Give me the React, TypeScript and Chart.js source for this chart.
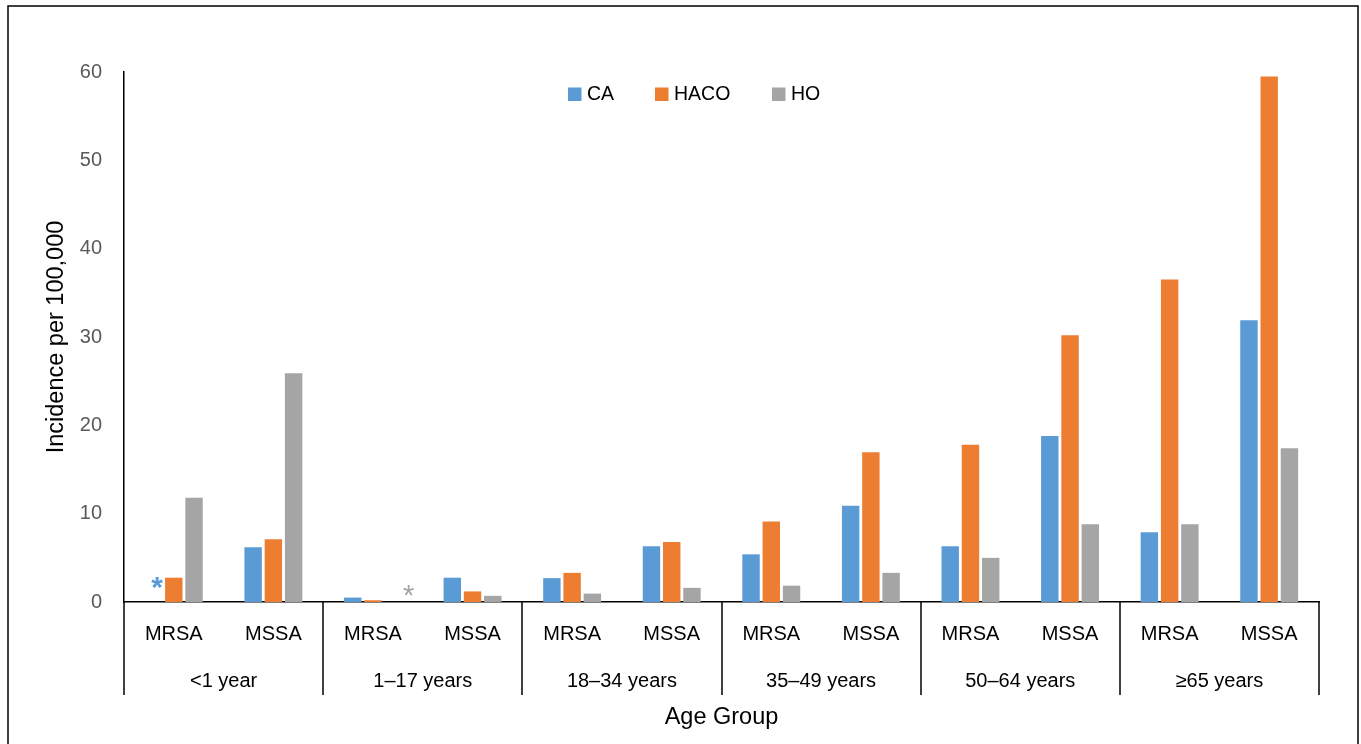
import React, { useEffect, useRef } from "react";
import { Chart, registerables } from "chart.js";

Chart.register(...registerables);

const ageGroups = ["<1 year", "1–17 years", "18–34 years", "35–49 years", "50–64 years", "≥65 years"];
const organisms = ["MRSA", "MSSA"];
const seriesNames = ["CA", "HACO", "HO"];
const seriesColors = ["#5B9BD5", "#ED7D31", "#A5A5A5"];

const caValues = [null, 6.2, 0.5, 2.75, 2.7, 6.3, 5.4, 10.9, 6.3, 18.8, 7.9, 31.9];
const hacoValues = [2.75, 7.1, 0.2, 1.2, 3.3, 6.8, 9.1, 16.95, 17.8, 30.2, 36.5, 59.5];
const hoValues = [11.8, 25.9, null, 0.7, 0.95, 1.6, 1.85, 3.3, 5.0, 8.8, 8.8, 17.4];

const yTicks = [0, 10, 20, 30, 40, 50, 60];

// suppressed-value markers: [datasetIndex, categoryIndex]
const asteriskMarks = [
  { ds: 0, idx: 0, color: "#5B9BD5", bold: true, dx: 3.5, cy: 582, size: 30 },
  { ds: 2, idx: 2, color: "#A5A5A5", bold: false, dx: 15.5, cy: 590, size: 29 },
];

const FONT = "'Liberation Sans', Arial, sans-serif";

export default function App() {
  const ref = useRef<HTMLCanvasElement | null>(null);

  useEffect(() => {
    if (!ref.current) return;
    const labels: string[] = [];
    const subLabels: string[] = [];
    ageGroups.forEach((g) =>
      organisms.forEach((o) => {
        labels.push(g + " " + o);
        subLabels.push(o);
      })
    );
    const valueSets = [caValues, hacoValues, hoValues];

    const overlay = {
      id: "overlay",
      afterDraw(chart: any) {
        const ctx = chart.ctx as CanvasRenderingContext2D;
        const xs = chart.scales.x;
        const area = chart.chartArea;
        const catW = (area.right - area.left) / labels.length;
        ctx.save();

        // outer border
        ctx.strokeStyle = "#000";
        ctx.lineWidth = 1.5;
        ctx.strokeRect(8, 6, 1350, 760);

        // sub labels
        ctx.fillStyle = "#000";
        ctx.textAlign = "center";
        ctx.textBaseline = "middle";
        ctx.font = `20px ${FONT}`;
        subLabels.forEach((s, i) => {
          ctx.fillText(s, xs.getPixelForValue(i), 634);
        });
        // group labels
        ageGroups.forEach((g, gi) => {
          const x = (xs.getPixelForValue(gi * 2) + xs.getPixelForValue(gi * 2 + 1)) / 2;
          ctx.fillText(g, x, 681);
        });
        // dividers
        ctx.strokeStyle = "#000";
        ctx.lineWidth = 1.5;
        for (let g = 0; g <= ageGroups.length; g++) {
          const x = Math.round(xs.getPixelForValue(g * 2) - catW / 2);
          ctx.beginPath();
          ctx.moveTo(x, area.bottom);
          ctx.lineTo(x, 695);
          ctx.stroke();
        }

        // axis titles
        ctx.font = `23.5px ${FONT}`;
        ctx.fillStyle = "#000";
        ctx.textBaseline = "middle";
        ctx.fillText("Age Group", (area.left + area.right) / 2, 718);
        ctx.save();
        ctx.translate(63, 337);
        ctx.rotate(-Math.PI / 2);
        ctx.textBaseline = "alphabetic";
        ctx.textAlign = "center";
        ctx.fillText("Incidence per 100,000", 0, 0);
        ctx.restore();

        // legend
        const legendX = [568, 655, 772];
        ctx.font = `19.5px ${FONT}`;
        ctx.textAlign = "left";
        ctx.textBaseline = "middle";
        seriesNames.forEach((n, i) => {
          ctx.fillStyle = seriesColors[i];
          ctx.fillRect(legendX[i], 87.5, 13.5, 13.5);
          ctx.fillStyle = "#000";
          ctx.fillText(n, legendX[i] + 19, 94.5);
        });

        // asterisks
        asteriskMarks.forEach((m) => {
          const bar = chart.getDatasetMeta(m.ds).data[m.idx];
          const x = bar.x + m.dx;
          ctx.fillStyle = m.color;
          ctx.font = `${m.bold ? "bold " : ""}${m.size}px ${FONT}`;
          ctx.textAlign = "center";
          ctx.textBaseline = "alphabetic";
          ctx.fillText("*", x, m.cy + m.size * 0.5);
        });

        ctx.restore();
      },
    };

    const chart = new Chart(ref.current, {
      type: "bar",
      data: {
        labels,
        datasets: seriesNames.map((n, i) => ({
          label: n,
          data: valueSets[i] as any,
          backgroundColor: seriesColors[i],
          categoryPercentage: 0.61,
          barPercentage: 0.86,
        })),
      },
      options: {
        responsive: false,
        animation: false,
        layout: { padding: { left: 0, top: 72, right: 42, bottom: 0 } },
        plugins: { legend: { display: false }, tooltip: { enabled: false } },
        scales: {
          x: {
            ticks: { display: false },
            grid: { display: false, drawTicks: false },
            border: { display: true, color: "#000", width: 1.5 },
            afterFit: (s: any) => {
              s.height = 142;
            },
          },
          y: {
            min: 0,
            max: 60,
            afterBuildTicks: (s: any) => {
              s.ticks = yTicks.map((v) => ({ value: v }));
            },
            ticks: {
              color: "#595959",
              font: { size: 20, family: FONT },
              padding: 22,
            },
            grid: { display: false, drawTicks: false },
            border: { display: true, color: "#000", width: 1.5 },
            afterFit: (s: any) => {
              s.width = 124;
            },
          },
        },
      },
      plugins: [overlay],
    });
    return () => chart.destroy();
  }, []);

  return (
    <div style={{ position: "fixed", left: 0, top: 0, width: 1361, height: 744, background: "#fff" }}>
      <canvas ref={ref} width={1361} height={744} style={{ width: 1361, height: 744 }} />
    </div>
  );
}
